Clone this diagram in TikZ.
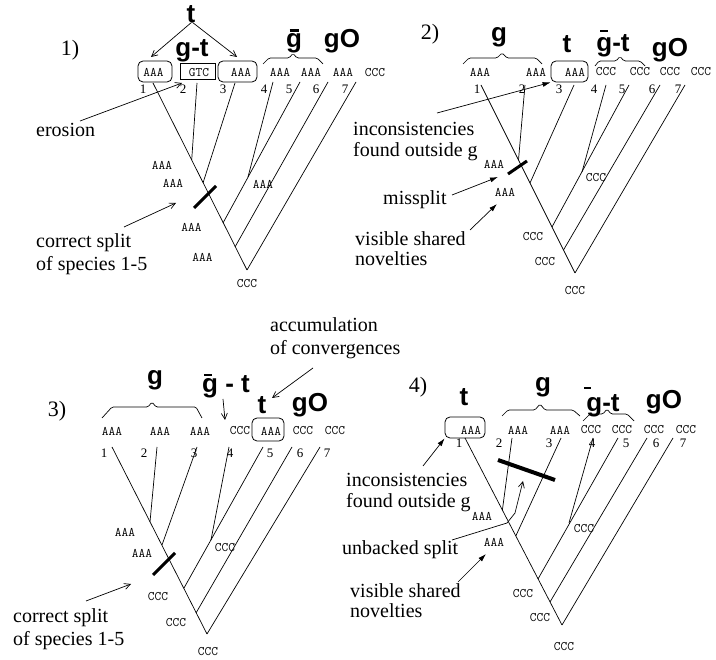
\documentclass[tikz,border=0pt]{standalone}
\usepackage{fontspec}
\setmainfont{Liberation Serif}
\setsansfont{Liberation Sans}
\usetikzlibrary{arrows.meta}
\begin{document}
\begin{tikzpicture}[x=1pt,y=-1pt,
  seq/.style={font=\ttfamily\fontsize{13}{13}\selectfont, inner sep=0pt},
  num/.style={font=\fontsize{13}{13}\selectfont, inner sep=0pt},
  big/.style={font=\sffamily\bfseries\fontsize{26}{26}\selectfont, inner sep=0pt, anchor=base},
  note/.style={font=\fontsize{20}{23}\selectfont, inner sep=0pt, anchor=base west},
  plab/.style={font=\fontsize{22}{22}\selectfont, inner sep=0pt},
  edge/.style={line width=0.7pt},
  macron/.style={line width=2.6pt},
  cutbar/.style={line width=3pt},
  brace/.style={line width=0.7pt, rounded corners=1.5pt},
  oarr/.style={line width=0.7pt, -{Straight Barb[length=6pt,width=6pt]}},
  farr/.style={line width=0.7pt, -{Latex[length=8pt,width=5pt]}},
  rbox/.style={draw, rounded corners=5pt, line width=0.8pt, inner sep=0pt},
  sbox/.style={draw, line width=0.8pt, inner sep=0pt},
]
\useasboundingbox (0,0) rectangle (716,660);

%================ Panel 1 ================
\node[plab] (p1) at (70,50) {1)};
\node[big] (t1) at (191,23) {t};
\node[big] (gt1) at (192,57) {g-t};
\node[big] (gb1) at (294,48) {g};
\draw[macron] (289.5,30.5) -- (298.5,30.5);
\node[big] (go1) at (342,48) {gO};
\draw[brace] (263,64) -- (269,58) -- (289,58) -- (293,53.5) -- (297,58) -- (317,58) -- (323,64);

\node[rbox, minimum width=34pt, minimum height=21pt] (b1a) at (155,71.5) {};
\node[sbox, minimum width=35pt, minimum height=16pt] (b1b) at (197.5,71) {};
\node[rbox, minimum width=39pt, minimum height=21pt] (b1c) at (237.5,71.5) {};
\node[seq] (s11) at (153.5,72.5) {AAA};
\node[seq] (s12) at (199,72.5) {GTC};
\node[seq] (s13) at (241,72.5) {AAA};
\node[seq] (s14) at (280,72.5) {AAA};
\node[seq] (s15) at (311,72.5) {AAA};
\node[seq] (s16) at (343,72.5) {AAA};
\node[seq] (s17) at (375,72.5) {CCC};
\node[num] (n11) at (143,89.5) {1};
\node[num] (n12) at (183,89.5) {2};
\node[num] (n13) at (223,89.5) {3};
\node[num] (n14) at (264,89.5) {4};
\node[num] (n15) at (289,89.5) {5};
\node[num] (n16) at (316,89.5) {6};
\node[num] (n17) at (345,89.5) {7};

\coordinate (a1) at (153,83);
\coordinate (a2) at (197,83);
\coordinate (a3) at (235,83);
\coordinate (a4) at (273,82);
\coordinate (a5) at (300,82);
\coordinate (a6) at (328,82);
\coordinate (a7) at (356,82);
\coordinate (aj2) at (191.7,160);
\coordinate (aj3) at (203,183);
\coordinate (aj4) at (248,177);
\coordinate (aj5) at (223,223);
\coordinate (aj6) at (235,247);
\coordinate (ar) at (247,270);
\draw[edge] (a1) -- (ar);
\draw[edge] (a2) -- (aj2);
\draw[edge] (a3) -- (aj3);
\draw[edge] (a4) -- (aj4);
\draw[edge] (a5) -- (aj5);
\draw[edge] (a6) -- (aj6);
\draw[edge] (a7) -- (ar);
\draw[cutbar] (194,208) -- (216,186);

\node[seq] (i11) at (162,165) {AAA};
\node[seq] (i12) at (173,183) {AAA};
\node[seq] (i13) at (263,184) {AAA};
\node[seq] (i14) at (191.5,227) {AAA};
\node[seq] (i15) at (202.5,257) {AAA};
\node[seq] (i16) at (247,284) {CCC};

\draw[oarr] (t1.south west) ++(5,-1) coordinate (t1l) (t1l) -- (151,57);
\draw[oarr] (t1.south east) ++(-3,-1) coordinate (t1r) (t1r) -- (237,57);

\node[note] (er) at (36,137) {erosion};
\coordinate (er0) at (80,121);
\draw[oarr] (er0) -- (182,83);
\node[note] (cs1) at (36,248) {correct split};
\node[note] (cs2) at (36,271) {of species 1-5};
\coordinate (cs0) at (124,227);
\draw[oarr] (cs0) -- (176,203);

%================ Panel 2 ================
\node[plab] (p2) at (430,34) {2)};
\node[big] (g2) at (499,42) {g};
\node[big] (t2) at (567,53) {t};
\node[big] (gt2) at (613,52) {g-t};
\draw[macron] (600,31) -- (608,31);
\node[big] (go2) at (670,57) {gO};
\draw[brace] (463,64) -- (469,58) -- (497,58) -- (502,53) -- (507,58) -- (536,58) -- (542,64);
\draw[brace] (595,66) -- (599,61) -- (616,61) -- (620,56.5) -- (624,61) -- (640,61) -- (645,66);

\node[rbox, minimum width=37pt, minimum height=21pt] (b2) at (569.5,71.5) {};
\node[seq] (s21) at (480,72) {AAA};
\node[seq] (s22) at (536,72) {AAA};
\node[seq] (s23) at (575,72) {AAA};
\node[seq] (s24) at (606,72) {CCC};
\node[seq] (s25) at (640,72) {CCC};
\node[seq] (s26) at (670,72) {CCC};
\node[seq] (s27) at (701,72) {CCC};
\node[num] (n21) at (477,89) {1};
\node[num] (n22) at (522,89) {2};
\node[num] (n23) at (559,89) {3};
\node[num] (n24) at (594,89) {4};
\node[num] (n25) at (622,89) {5};
\node[num] (n26) at (652,89) {6};
\node[num] (n27) at (678,89) {7};

\coordinate (c1) at (481,85);
\coordinate (c2) at (525,85);
\coordinate (c3) at (574,85);
\coordinate (c4) at (606,85);
\coordinate (c5) at (629,85);
\coordinate (c6) at (660,85);
\coordinate (c7) at (685,85);
\coordinate (cj2) at (518.5,160);
\coordinate (cj3) at (530,183);
\coordinate (cj4) at (582,172);
\coordinate (cj5) at (552,227);
\coordinate (cj6) at (563.5,250);
\coordinate (cr) at (575,273);
\draw[edge] (c1) -- (cr);
\draw[edge] (c2) -- (cj2);
\draw[edge] (c3) -- (cj3);
\draw[edge] (c4) -- (cj4);
\draw[edge] (c5) -- (cj5);
\draw[edge] (c6) -- (cj6);
\draw[edge] (c7) -- (cr);
\draw[cutbar] (508,174) -- (527,161);

\node[seq] (i21) at (494,164) {AAA};
\node[seq] (i22) at (505,192) {AAA};
\node[seq] (i23) at (596,178) {CCC};
\node[seq] (i24) at (533,237) {CCC};
\node[seq] (i25) at (545,262) {CCC};
\node[seq] (i26) at (575,291) {CCC};

\node[note] (ic1) at (353,136) {inconsistencies};
\node[note] (ic2) at (353,157) {found outside g};
\coordinate (ic0) at (437,113);
\draw[farr] (ic0) -- (b2.south west);
\node[note] (ms) at (383,205) {missplit};
\coordinate (ms0) at (452,195);
\draw[farr] (ms0) -- (498,177);
\node[note] (vs1) at (355,246) {visible shared};
\node[note] (vs2) at (355,266) {novelties};
\coordinate (vs0) at (470,230);
\draw[farr] (vs0) -- (497,204);

%================ Panel 3 ================
\node[plab] (p3) at (57,411) {3)};
\node[big] (g3) at (155,385) {g};
\node[big] (gt3) at (226,393) {g - t};
\draw[macron] (204,375) -- (212,375);
\node[big] (t3) at (262,414) {t};
\node[big] (go3) at (310,412) {gO};
\draw[brace] (102,418) -- (112,407) -- (148,407) -- (152,402) -- (156,407) -- (196,407) -- (202,418);

\node[rbox, minimum width=32pt, minimum height=23pt] (b3) at (268,429.5) {};
\node[seq] (s31) at (112,431) {AAA};
\node[seq] (s32) at (160,431) {AAA};
\node[seq] (s33) at (200,431) {AAA};
\node[seq] (s34) at (240,431) {CCC};
\node[seq] (s35) at (271,431) {AAA};
\node[seq] (s36) at (303,431) {CCC};
\node[seq] (s37) at (335,431) {CCC};
\node[num] (n31) at (104,453) {1};
\node[num] (n32) at (144,453) {2};
\node[num] (n33) at (194,453) {3};
\node[num] (n34) at (230,453) {4};
\node[num] (n35) at (270,453) {5};
\node[num] (n36) at (300,453) {6};
\node[num] (n37) at (327,453) {7};

\coordinate (d1) at (112,447);
\coordinate (d2) at (157,447);
\coordinate (d3) at (197,447);
\coordinate (d4) at (229,447);
\coordinate (d5) at (263,447);
\coordinate (d6) at (292,447);
\coordinate (d7) at (320,447);
\coordinate (dj2) at (150,522);
\coordinate (dj3) at (162,545);
\coordinate (dj4) at (211,540);
\coordinate (dj5) at (184,588);
\coordinate (dj6) at (196,613);
\coordinate (dr) at (207,634);
\draw[edge] (d1) -- (dr);
\draw[edge] (d2) -- (dj2);
\draw[edge] (d3) -- (dj3);
\draw[edge] (d4) -- (dj4);
\draw[edge] (d5) -- (dj5);
\draw[edge] (d6) -- (dj6);
\draw[edge] (d7) -- (dr);
\draw[cutbar] (153,575) -- (175,553);

\node[seq] (i31) at (125,532) {AAA};
\node[seq] (i32) at (142,553) {AAA};
\node[seq] (i33) at (225,548) {CCC};
\node[seq] (i34) at (158,597) {CCC};
\node[seq] (i35) at (176,623) {CCC};
\node[seq] (i36) at (208,652) {CCC};

\coordinate (gt3a) at (223,399);
\draw[oarr] (gt3a) -- (225,420);
\node[note] (ac1) at (270,332) {accumulation};
\node[note] (ac2) at (270,355) {of convergences};
\coordinate (ac0) at (313,368);
\draw[oarr] (ac0) -- (272,398);
\node[note] (cs3) at (13,623) {correct split};
\node[note] (cs4) at (13,646) {of species 1-5};
\coordinate (cs5) at (86,601);
\draw[oarr] (cs5) -- (131,584);

%================ Panel 4 ================
\node[plab] (p4) at (418,387) {4)};
\node[big] (t4) at (464,406) {t};
\node[big] (g4) at (543,392) {g};
\node[big] (gt4) at (603,412) {g-t};
\draw[macron] (584,388) -- (591,388);
\node[big] (go4) at (664,409) {gO};
\draw[brace] (502,416) -- (508,410) -- (535,410) -- (540,404) -- (545,410) -- (573,410) -- (580,416);
\draw[brace] (583,421) -- (590,414) -- (603,414) -- (607,409) -- (611,414) -- (627,414) -- (634,421);

\node[rbox, minimum width=40pt, minimum height=21pt] (b4) at (465,427.5) {};
\node[seq] (s41) at (471,430) {AAA};
\node[seq] (s42) at (518,430) {AAA};
\node[seq] (s43) at (560,430) {AAA};
\node[seq] (s44) at (591,430) {CCC};
\node[seq] (s45) at (622,430) {CCC};
\node[seq] (s46) at (654,430) {CCC};
\node[seq] (s47) at (686,430) {CCC};
\node[num] (n41) at (459,443.5) {1};
\node[num] (n42) at (499,443.5) {2};
\node[num] (n43) at (549,443.5) {3};
\node[num] (n44) at (592,443.5) {4};
\node[num] (n45) at (626,443.5) {5};
\node[num] (n46) at (656,443.5) {6};
\node[num] (n47) at (683,443.5) {7};

\coordinate (e1) at (465,438);
\coordinate (e2) at (512,438);
\coordinate (e3) at (561,438);
\coordinate (e4) at (593,438);
\coordinate (e5) at (618,438);
\coordinate (e6) at (647,438);
\coordinate (e7) at (673,438);
\coordinate (ej2) at (502.4,510);
\coordinate (ej3) at (515.8,536);
\coordinate (ej4) at (569,523);
\coordinate (ej5) at (538,579);
\coordinate (ej6) at (550,602);
\coordinate (er4) at (562,625);
\draw[edge] (e1) -- (er4);
\draw[edge] (e2) -- (ej2);
\draw[edge] (e3) -- (ej3);
\draw[edge] (e4) -- (ej4);
\draw[edge] (e5) -- (ej5);
\draw[edge] (e6) -- (ej6);
\draw[edge] (e7) -- (er4);
\draw[line width=4pt] (498,460) -- (555,480);

\node[seq] (i41) at (482,516) {AAA};
\node[seq] (i42) at (494,542) {AAA};
\node[seq] (i43) at (584,529) {CCC};
\node[seq] (i44) at (523,594) {CCC};
\node[seq] (i45) at (540,618) {CCC};
\node[seq] (i46) at (564,647) {CCC};

\node[note] (ic3) at (346,487) {inconsistencies};
\node[note] (ic4) at (346,508) {found outside g};
\coordinate (ic5) at (423,466);
\draw[farr] (ic5) -- (b4.south west);
\node[note] (ub) at (342,555) {unbacked split};
\coordinate (ub0) at (452,540);
\draw[oarr] (ub0) -- (507,523) -- (515,513) -- (523,481);
\node[note] (vs3) at (350,598) {visible shared};
\node[note] (vs4) at (350,618) {novelties};
\coordinate (vs5) at (458,582);
\draw[farr] (vs5) -- (486,554);
\end{tikzpicture}
\end{document}
